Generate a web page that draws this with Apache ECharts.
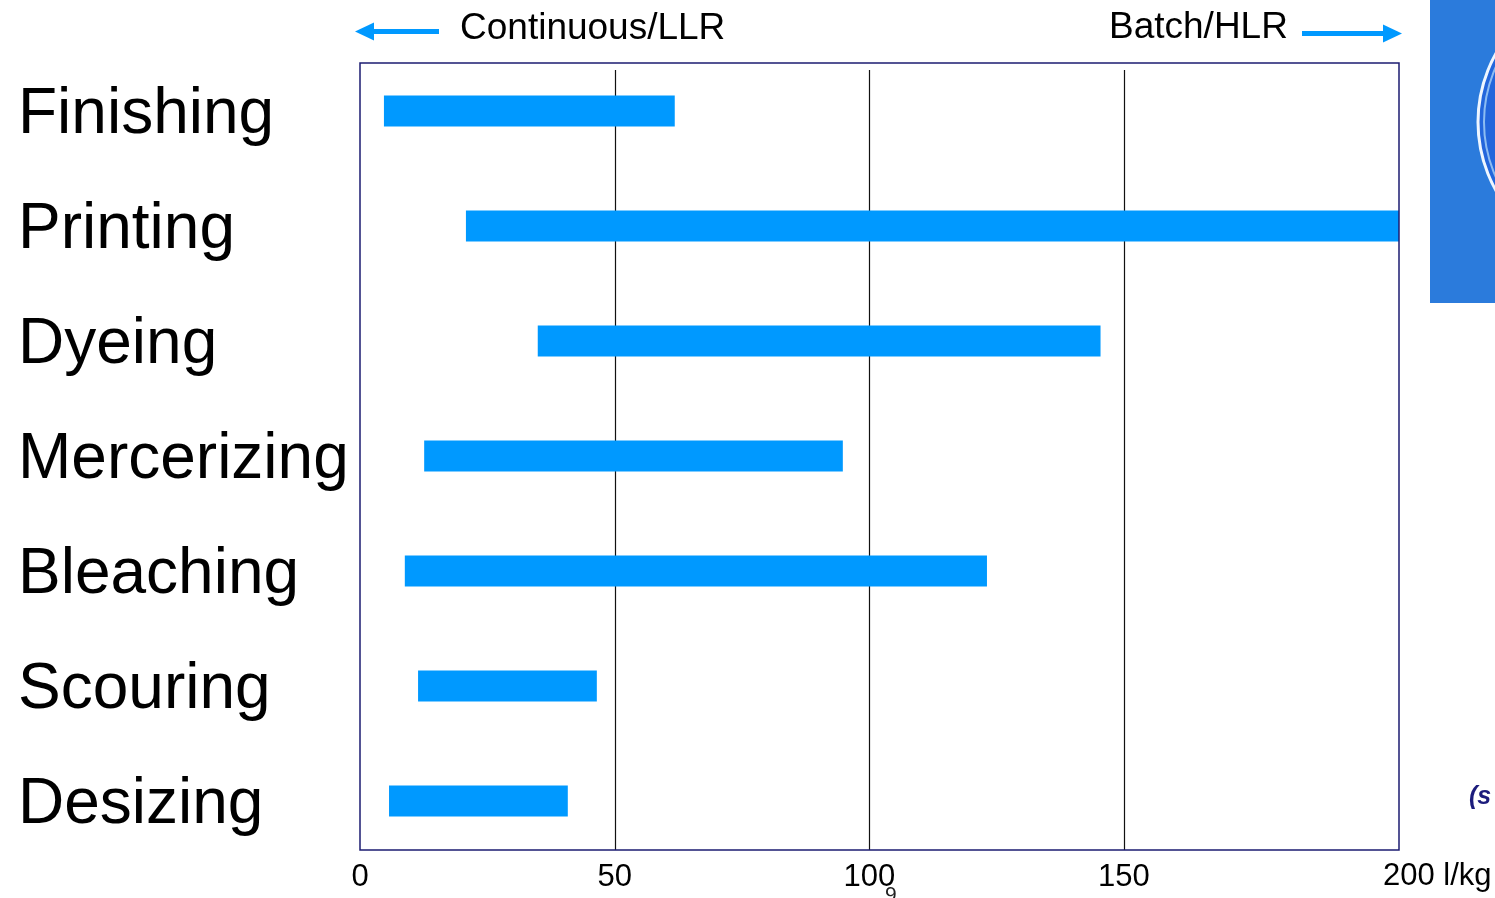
<!DOCTYPE html>
<html>
<head>
<meta charset="utf-8">
<script src="https://cdn.jsdelivr.net/npm/echarts@6/dist/echarts.min.js"></script>
<style>
  html, body { margin: 0; padding: 0; background: #ffffff; }
  #chart { width: 1495px; height: 898px; }
</style>
</head>
<body>
<div id="chart"></div>
<script>
// Liquor consumption ranges per textile process (l/kg)
const processes = ['Finishing', 'Printing', 'Dyeing', 'Mercerizing', 'Bleaching', 'Scouring', 'Desizing'];
const rangeStart = [4.7, 20.8, 34.9, 12.6, 8.8, 11.4, 5.7];
const rangeEnd   = [61.8, 204, 145.4, 94.8, 123.1, 46.5, 40.8];

const axisMax = 204;               // right edge of the plot frame
const tickValues = [0, 50, 100, 150];
const gridValues = [50, 100, 150];
const endTickLabel = '200 l/kg';
const leftCaption = 'Continuous/LLR';
const rightCaption = 'Batch/HLR';

const FONT = "'Liberation Sans', Arial, sans-serif";
const BAR_BLUE = '#0099ff';
const FRAME = { x: 360, y: 63, w: 1039, h: 787 };

const chart = echarts.init(document.getElementById('chart'), null, { renderer: 'canvas' });

const option = {
  animation: false,
  backgroundColor: '#ffffff',
  grid: { left: 360, width: 1039, top: 53.5, height: 805, containLabel: false },
  xAxis: {
    type: 'value',
    min: 0,
    max: axisMax,
    interval: 50,
    axisLine: { show: false },
    axisTick: { show: false },
    splitLine: { show: false },
    axisLabel: {
      margin: 3,
      fontFamily: FONT,
      fontSize: 31,
      color: '#000',
      showMaxLabel: false,
      formatter: v => (tickValues.indexOf(v) >= 0 ? String(v) : '')
    }
  },
  yAxis: {
    type: 'category',
    inverse: true,
    data: processes,
    axisLine: { show: false },
    axisTick: { show: false },
    splitLine: { show: false },
    axisLabel: { show: false }
  },
  series: [
    {
      name: 'start',
      type: 'bar',
      stack: 'range',
      barWidth: 31,
      silent: true,
      itemStyle: { color: 'transparent' },
      data: rangeStart
    },
    {
      name: 'range',
      type: 'bar',
      stack: 'range',
      barWidth: 31,
      itemStyle: { color: BAR_BLUE },
      data: rangeEnd.map((e, i) => e - rangeStart[i])
    }
  ]
};

chart.setOption(option);

// Vertical reference lines, placed through the value axis
const gridLines = gridValues.map(v => {
  const x = Math.round(chart.convertToPixel({ xAxisIndex: 0 }, v)) + 0.5;
  return {
    type: 'line', z: 0, silent: true,
    shape: { x1: x, y1: 70, x2: x, y2: 850 },
    style: { stroke: '#111', lineWidth: 1.2 }
  };
});

// Process names, left-aligned in the margin and anchored to each category band
const categoryLabels = processes.map(name => ({
  type: 'text', z: 5, silent: true,
  style: {
    x: 18,
    y: chart.convertToPixel({ yAxisIndex: 0 }, name) + 4,
    text: name, font: '64px ' + FONT, fill: '#000',
    verticalAlign: 'middle', align: 'left'
  }
}));

const arrowHead = (tipX, y, dir) => ({
  type: 'polygon', z: 5, silent: true,
  shape: { points: [[tipX, y], [tipX - dir * 19, y - 9], [tipX - dir * 19, y + 9]] },
  style: { fill: BAR_BLUE }
});

chart.setOption({
  graphic: [
    ...gridLines,
    ...categoryLabels,
    // plot frame
    {
      type: 'rect', z: 10, silent: true,
      shape: { x: FRAME.x, y: FRAME.y, width: FRAME.w, height: FRAME.h },
      style: { fill: 'none', stroke: '#1c1c72', lineWidth: 1.5 }
    },
    // direction arrows and captions
    {
      type: 'line', z: 5, silent: true,
      shape: { x1: 370, y1: 31.5, x2: 439, y2: 31.5 },
      style: { stroke: BAR_BLUE, lineWidth: 5 }
    },
    arrowHead(355, 31.5, -1),
    {
      type: 'text', z: 5, silent: true,
      style: { x: 460, y: 29, text: leftCaption, font: '37px ' + FONT, fill: '#000', verticalAlign: 'middle', align: 'left' }
    },
    {
      type: 'text', z: 5, silent: true,
      style: { x: 1109, y: 28, text: rightCaption, font: '37px ' + FONT, fill: '#000', verticalAlign: 'middle', align: 'left' }
    },
    {
      type: 'line', z: 5, silent: true,
      shape: { x1: 1302, y1: 33.5, x2: 1386, y2: 33.5 },
      style: { stroke: BAR_BLUE, lineWidth: 5 }
    },
    arrowHead(1402, 33.5, 1),
    // end label of the value axis
    {
      type: 'text', z: 5, silent: true,
      style: { x: 1383, y: 876, text: endTickLabel, font: '31px ' + FONT, fill: '#000', verticalAlign: 'middle', align: 'left' }
    },
    // page number
    {
      type: 'text', z: 5, silent: true,
      style: { x: 885, y: 885, text: '9', font: '21px ' + FONT, fill: '#222', verticalAlign: 'top', align: 'left' }
    },
    // side panel with ring ornament
    {
      type: 'rect', z: 1, silent: true,
      shape: { x: 1430, y: 0, width: 70, height: 303 },
      style: { fill: '#2b7bdc' }
    },
    {
      type: 'circle', z: 2, silent: true,
      shape: { cx: 1618, cy: 122, r: 140 },
      style: { fill: '#2366dc', stroke: '#eef6ff', lineWidth: 3 }
    },
    {
      type: 'circle', z: 2, silent: true,
      shape: { cx: 1618, cy: 122, r: 134 },
      style: { fill: 'none', stroke: '#8cbcf2', lineWidth: 2 }
    },
    // partial caption at the right margin
    {
      type: 'text', z: 5, silent: true,
      style: { x: 1469, y: 797, text: '(s', font: 'italic bold 25px ' + FONT, fill: '#1c1c7c', verticalAlign: 'middle', align: 'left' }
    }
  ]
});
</script>
</body>
</html>
